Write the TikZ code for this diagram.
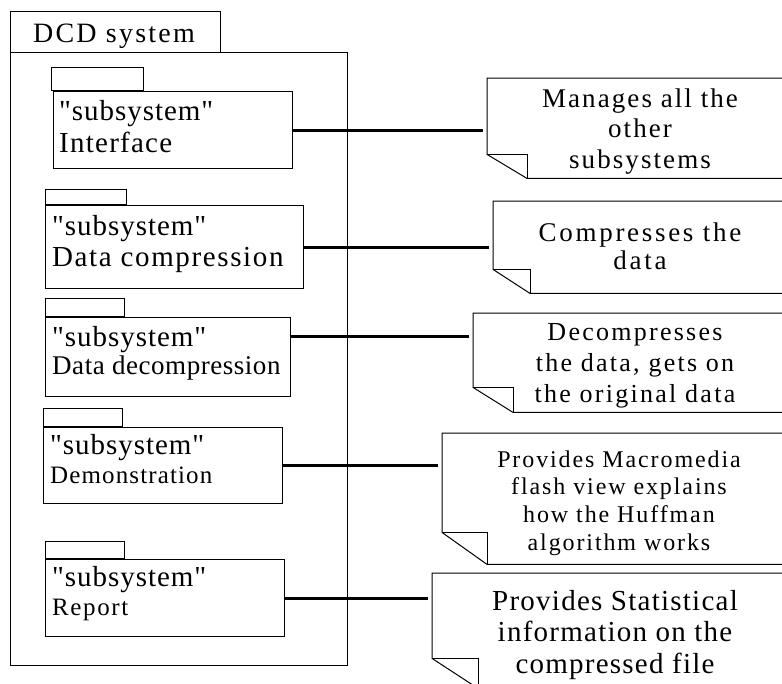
\documentclass[tikz,border=0pt]{standalone}
\usepackage{fontspec}
% plain family: keeps the straight " glyph as typed
\newfontfamily\labelfont{Liberation Serif}

% stacked lines: first baseline is the box baseline
\newcommand\ctrlines[1]{\vtop{\halign{\hfil##\hfil\cr#1\crcr}}}
\newcommand\leftlines[1]{\vtop{\halign{##\hfil\cr#1\crcr}}}
% size, baselineskip, letter spacing
\newcommand\setfnt[3]{\labelfont\fontsize{#1}{#2}\selectfont\addfontfeature{LetterSpace=#3}}

% outline of a note with a folded lower-left corner
\newcommand\notefold[3]{%
  \draw[noteline] (#1.north east) -- (#1.north west) -- ([yshift=#3pt]#1.south west)
    -- ([xshift=#2pt]#1.south west) -- (#1.south east);
  \draw[noteline] ([yshift=#3pt]#1.south west) -| ([xshift=#2pt]#1.south west);}

\tikzset{
  frame/.style={draw, line width=1.4pt, inner sep=0pt, rectangle, anchor=north west},
  pkgbody/.style={draw, line width=1.4pt, inner sep=0pt, rectangle, anchor=north west},
  pkgtab/.style={draw, line width=1.4pt, inner sep=0pt, rectangle, anchor=south west},
  conn/.style={line width=3pt, shorten >=4pt},
  notearea/.style={inner sep=0pt, rectangle, anchor=north west},
  noteline/.style={line width=1pt},
  notetext/.style={inner sep=0pt, anchor=base},
  pkgtext/.style={inner sep=0pt, anchor=base west},
}

\begin{document}
\begin{tikzpicture}[x=1pt, y=-1pt]
\useasboundingbox (0,0) rectangle (782,683);
\clip (0,0) rectangle (782,683);

% system frame
\node[frame, minimum width=210, minimum height=41] (tab) at (10,11) {};
\node[frame, minimum width=337, minimum height=613] (sys) at (10,52) {};
\node[notetext, font=\setfnt{28}{30}{8}] (title) at (114,42) {DCD system};

% subsystem packages
\node[pkgbody, minimum width=239, minimum height=77] (p1) at (53,91) {};
\node[pkgtab, minimum width=92, minimum height=23] (p1tab) at ([xshift=-2pt]p1.north west) {};
\node[pkgbody, minimum width=258, minimum height=83] (p2) at (45,205) {};
\node[pkgtab, minimum width=81, minimum height=15] (p2tab) at (p2.north west) {};
\node[pkgbody, minimum width=245, minimum height=79] (p3) at (45,317) {};
\node[pkgtab, minimum width=79, minimum height=18] (p3tab) at (p3.north west) {};
\node[pkgbody, minimum width=239, minimum height=76] (p4) at (43,427) {};
\node[pkgtab, minimum width=79, minimum height=18] (p4tab) at (p4.north west) {};
\node[pkgbody, minimum width=239, minimum height=77] (p5) at (45,559) {};
\node[pkgtab, minimum width=79, minimum height=17] (p5tab) at (p5.north west) {};

\node[pkgtext, font=\setfnt{29}{32}{3.3}] (p1text) at (59,120)
  {\leftlines{"subsystem"\cr {\addfontfeature{LetterSpace=4.3}Interface}}};
\node[pkgtext, font=\setfnt{29}{31}{3.3}] (p2text) at (52,235)
  {\leftlines{"subsystem"\cr {\addfontfeature{LetterSpace=5.6}Data compression}}};
\node[pkgtext, font=\setfnt{29}{28}{3.3}] (p3text) at (52,346)
  {\leftlines{"subsystem"\cr {\setfnt{27}{28}{2}Data decompression}}};
\node[pkgtext, font=\setfnt{29}{29}{3.3}] (p4text) at (50,454)
  {\leftlines{"subsystem"\cr {\setfnt{25}{29}{4.5}Demonstration}}};
\node[pkgtext, font=\setfnt{29}{29}{3.3}] (p5text) at (52,586)
  {\leftlines{"subsystem"\cr {\setfnt{25}{29}{6.4}Report}}};

% notes
\node[notearea, minimum width=400, minimum height=100] (n1) at (487,78) {};
\node[notearea, minimum width=400, minimum height=92] (n2) at (493,201) {};
\node[notearea, minimum width=400, minimum height=99] (n3) at (473,313) {};
\node[notearea, minimum width=400, minimum height=131] (n4) at (442,433) {};
\node[notearea, minimum width=400, minimum height=115] (n5) at (432,573) {};
\notefold{n1}{40}{24}
\notefold{n2}{37}{24}
\notefold{n3}{40}{25}
\notefold{n4}{45}{32}
\notefold{n5}{46}{30}

\node[notetext, font=\setfnt{27}{30.5}{7.7}] (n1text) at (640,107)
  {\ctrlines{Manages all the\cr other\cr subsystems}};
\node[notetext, font=\setfnt{27}{28}{10}] (n2text) at (640,241)
  {\ctrlines{Compresses the\cr data}};
\node[notetext, font=\setfnt{26}{31}{8.7}] (n3text) at (635,340)
  {\ctrlines{Decompresses\cr the data, gets on\cr the original data}};
\node[notetext, font=\setfnt{24}{27.7}{7.9}] (n4text) at (619,467)
  {\ctrlines{Provides Macromedia\cr flash view explains\cr how the Huffman\cr algorithm works}};
\node[notetext, font=\setfnt{29}{31.5}{4.3}] (n5text) at (615,610)
  {\ctrlines{Provides Statistical\cr information on the\cr compressed file}};

% links from each subsystem to its note
\coordinate (a3) at ([yshift=-19pt]p3.north east);
\draw[conn] (p1.east) -- (p1.east -| n1.west);
\draw[conn] (p2.east) -- (p2.east -| n2.west);
\draw[conn] (a3) -- (a3 -| n3.west);
\draw[conn] (p4.east) -- (p4.east -| n4.west);
\draw[conn] (p5.east) -- (p5.east -| n5.west);
\end{tikzpicture}
\end{document}
